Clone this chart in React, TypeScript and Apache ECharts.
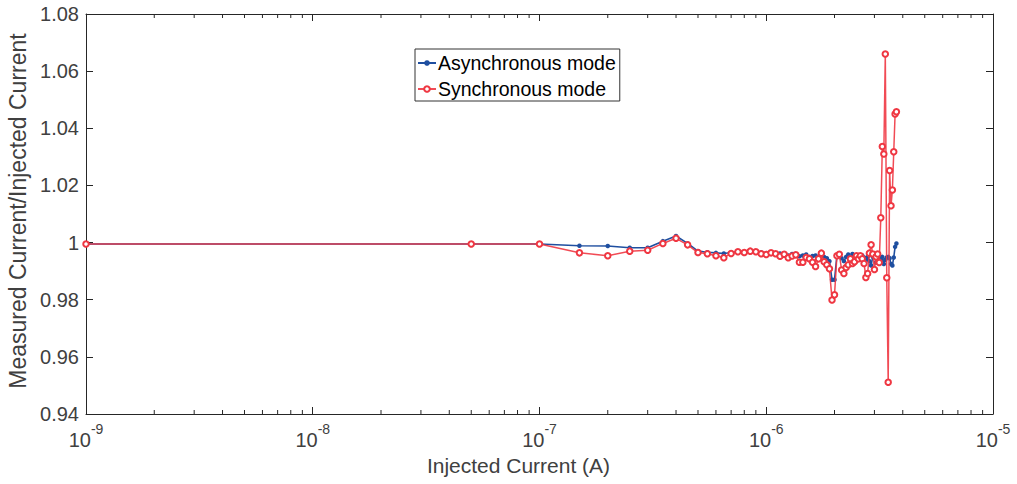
import React, { useEffect, useRef } from "react";
import * as echarts from "echarts";

// Injected current in microamps
const currentsUA = [
  0.001, 0.05, 0.1, 0.15, 0.2, 0.25, 0.3, 0.35, 0.4, 0.45, 0.5, 0.55, 0.6, 0.65, 0.7, 0.75,
  0.8, 0.85, 0.9, 0.95, 1.0, 1.05, 1.1, 1.15, 1.2, 1.25, 1.3, 1.35, 1.4, 1.45, 1.5, 1.55,
  1.6, 1.65, 1.7, 1.75, 1.8, 1.85, 1.9, 1.95, 2.0, 2.05, 2.1, 2.15, 2.2, 2.25, 2.3, 2.35,
  2.4, 2.45, 2.5, 2.55, 2.6, 2.65, 2.7, 2.75, 2.8, 2.85, 2.9, 2.95, 3.0, 3.05, 3.1, 3.15,
  3.2, 3.25, 3.3, 3.35, 3.4, 3.45, 3.5, 3.55, 3.6, 3.65, 3.7, 3.75,
];

const asyncRatio = [
  0.9995, 0.9995, 0.9995, 0.9989, 0.9988, 0.9982, 0.9982, 1.0005, 1.0023, 0.9997, 0.997, 0.9966, 0.9964, 0.9962, 0.9965, 0.9968,
  0.9966, 0.9968, 0.9967, 0.9965, 0.9963, 0.9962, 0.996, 0.9962, 0.9958, 0.9955, 0.996, 0.9958, 0.9952, 0.9955, 0.9958, 0.995,
  0.9953, 0.9955, 0.995, 0.9957, 0.995, 0.9945, 0.9935, 0.987, 0.987, 0.9955, 0.996, 0.9945, 0.9935, 0.995, 0.9958, 0.995,
  0.996, 0.9955, 0.995, 0.9952, 0.9945, 0.9955, 0.9948, 0.994, 0.995, 0.9935, 0.992, 0.995, 0.9955, 0.993, 0.9948, 0.995,
  0.9935, 0.995, 0.9925, 0.994, 0.9948, 0.995, 0.9945, 0.9925, 0.992, 0.9948, 0.9985, 0.9997,
];

const syncRatio = [
  0.9995, 0.9995, 0.9995, 0.9964, 0.9954, 0.997, 0.9973, 0.9997, 1.0015, 0.9992, 0.9965, 0.9961, 0.9954, 0.9947, 0.9962, 0.9968,
  0.9965, 0.997, 0.9968, 0.9961, 0.9958, 0.9964, 0.9961, 0.9952, 0.9959, 0.9947, 0.9953, 0.9957, 0.9931, 0.9931, 0.9948, 0.9943,
  0.9931, 0.9916, 0.9943, 0.9963, 0.9933, 0.9922, 0.9908, 0.9799, 0.9817, 0.9954, 0.9959, 0.9904, 0.9892, 0.9913, 0.9922, 0.9943,
  0.9927, 0.9933, 0.9954, 0.9943, 0.9954, 0.9943, 0.9927, 0.9878, 0.9892, 0.9963, 0.9992, 0.996, 0.9906, 0.995, 0.996, 0.993,
  1.0087, 1.0336, 1.031, 1.066, 0.9877, 0.9511, 1.0252, 1.0129, 1.0184, 1.0318, 1.045, 1.0458,
];

const seriesNames = ["Asynchronous mode", "Synchronous mode"];
const xName = "Injected Current (A)";
const yName = "Measured Current/Injected Current";
const minorMultipliers = [2, 3, 4, 5, 6, 7, 8, 9];
const minorDecades = [1e-9, 1e-8, 1e-7, 1e-6];

const FONT = "Liberation Sans";
const AXIS_COLOR = "#262626";
const TEXT_COLOR = "#404040";
const BLUE = "#1f4fa0";
const RED = "#ef3742";

export default function App() {
  const ref = useRef<HTMLDivElement>(null);
  useEffect(() => {
    if (!ref.current) return;
    const chart = echarts.init(ref.current, undefined, { renderer: "svg" });
    const toA = (u: number) => u * 1e-6;
    const asyncData = currentsUA.map((c, i) => [toA(c), asyncRatio[i]]);
    const syncData = currentsUA.map((c, i) => [toA(c), syncRatio[i]]);
    const minorData: number[][] = [];
    minorDecades.forEach((d) => minorMultipliers.forEach((m) => minorData.push([m * d, 1])));

    const xLabel = (v: number) => `{b|10}{s|${Math.round(Math.log10(v))}}`;
    const tickStyle = { color: AXIS_COLOR, width: 1 };

    chart.setOption({
      animation: false,
      backgroundColor: "#fff",
      textStyle: { fontFamily: FONT },
      grid: { left: 86, right: 24, top: 14, bottom: 70, containLabel: false, outerBoundsMode: "none" },
      legend: {
        data: seriesNames,
        orient: "vertical",
        left: 415,
        top: 49,
        padding: [4, 4, 2, 2],
        itemGap: 6,
        itemWidth: 18,
        itemHeight: 7,
        borderColor: "#333",
        borderWidth: 1,
        backgroundColor: "#fff",
        textStyle: { fontFamily: FONT, fontSize: 19.5, color: "#000", lineHeight: 20, padding: [0, 0, 0, -3] },
      },
      xAxis: [
        {
          type: "log",
          logBase: 10,
          min: 1e-9,
          max: 1e-5,
          name: xName,
          nameLocation: "middle",
          nameGap: 41,
          nameTextStyle: { fontFamily: FONT, fontSize: 21, color: TEXT_COLOR, padding: [0, 42, 0, 0] },
          axisLine: { show: true, lineStyle: tickStyle },
          axisTick: { show: true, inside: true, length: 7, lineStyle: tickStyle },
          splitLine: { show: false },
          axisLabel: {
            formatter: xLabel,
            margin: 8,
            rich: {
              b: { fontFamily: FONT, fontSize: 20, color: TEXT_COLOR, lineHeight: 28, verticalAlign: "bottom" },
              s: { fontFamily: FONT, fontSize: 14, color: TEXT_COLOR, lineHeight: 14, verticalAlign: "top" },
            },
          },
        },
        {
          type: "log",
          logBase: 10,
          min: 1e-9,
          max: 1e-5,
          position: "top",
          axisLine: { show: true, lineStyle: tickStyle },
          axisTick: { show: true, inside: true, length: 7, lineStyle: tickStyle },
          axisLabel: { show: false },
          splitLine: { show: false },
        },
      ],
      yAxis: [
        {
          type: "value",
          min: 0.94,
          max: 1.08,
          interval: 0.02,
          name: yName,
          nameLocation: "middle",
          nameGap: 52,
          nameTextStyle: { fontFamily: FONT, fontSize: 23, color: TEXT_COLOR, padding: [0, 0, 0, 6] },
          axisLine: { show: true, lineStyle: tickStyle },
          axisTick: { show: true, inside: true, length: 7, lineStyle: tickStyle },
          splitLine: { show: false },
          axisLabel: {
            fontFamily: FONT,
            fontSize: 20,
            color: TEXT_COLOR,
            margin: 7,
            formatter: (v: number) => String(parseFloat(v.toFixed(2))),
          },
        },
        {
          type: "value",
          min: 0.94,
          max: 1.08,
          interval: 0.02,
          position: "right",
          axisLine: { show: true, lineStyle: tickStyle },
          axisTick: { show: true, inside: true, length: 7, lineStyle: tickStyle },
          axisLabel: { show: false },
          splitLine: { show: false },
        },
      ],
      series: [
        {
          type: "custom",
          name: "minorTicks",
          silent: true,
          xAxisIndex: 0,
          yAxisIndex: 0,
          encode: { x: 0, y: 1 },
          data: minorData,
          renderItem: (params: any, api: any) => {
            const x = api.coord([api.value(0), api.value(1)])[0];
            const cs = params.coordSys;
            const top = cs.y;
            const bottom = cs.y + cs.height;
            const st = { stroke: AXIS_COLOR, lineWidth: 1 };
            return {
              type: "group",
              children: [
                { type: "line", shape: { x1: x, y1: bottom, x2: x, y2: bottom - 4 }, style: st },
                { type: "line", shape: { x1: x, y1: top, x2: x, y2: top + 4 }, style: st },
              ],
            };
          },
          z: 1,
        },
        {
          type: "line",
          name: seriesNames[0],
          data: asyncData,
          symbol: "circle",
          symbolSize: 4.5,
          showSymbol: true,
          lineStyle: { color: BLUE, width: 1.6 },
          itemStyle: { color: BLUE },
          z: 2,
        },
        {
          type: "line",
          name: seriesNames[1],
          data: syncData,
          symbol: "emptyCircle",
          symbolSize: 5.5,
          showSymbol: true,
          lineStyle: { color: RED, width: 1.5, opacity: 0.9 },
          itemStyle: { color: RED, borderColor: RED, borderWidth: 1.3 },
          z: 3,
        },
      ],
    });
    return () => chart.dispose();
  }, []);
  return (
    <div
      ref={ref}
      style={{ position: "absolute", left: 0, top: 0, width: 1017, height: 484 }}
    />
  );
}
